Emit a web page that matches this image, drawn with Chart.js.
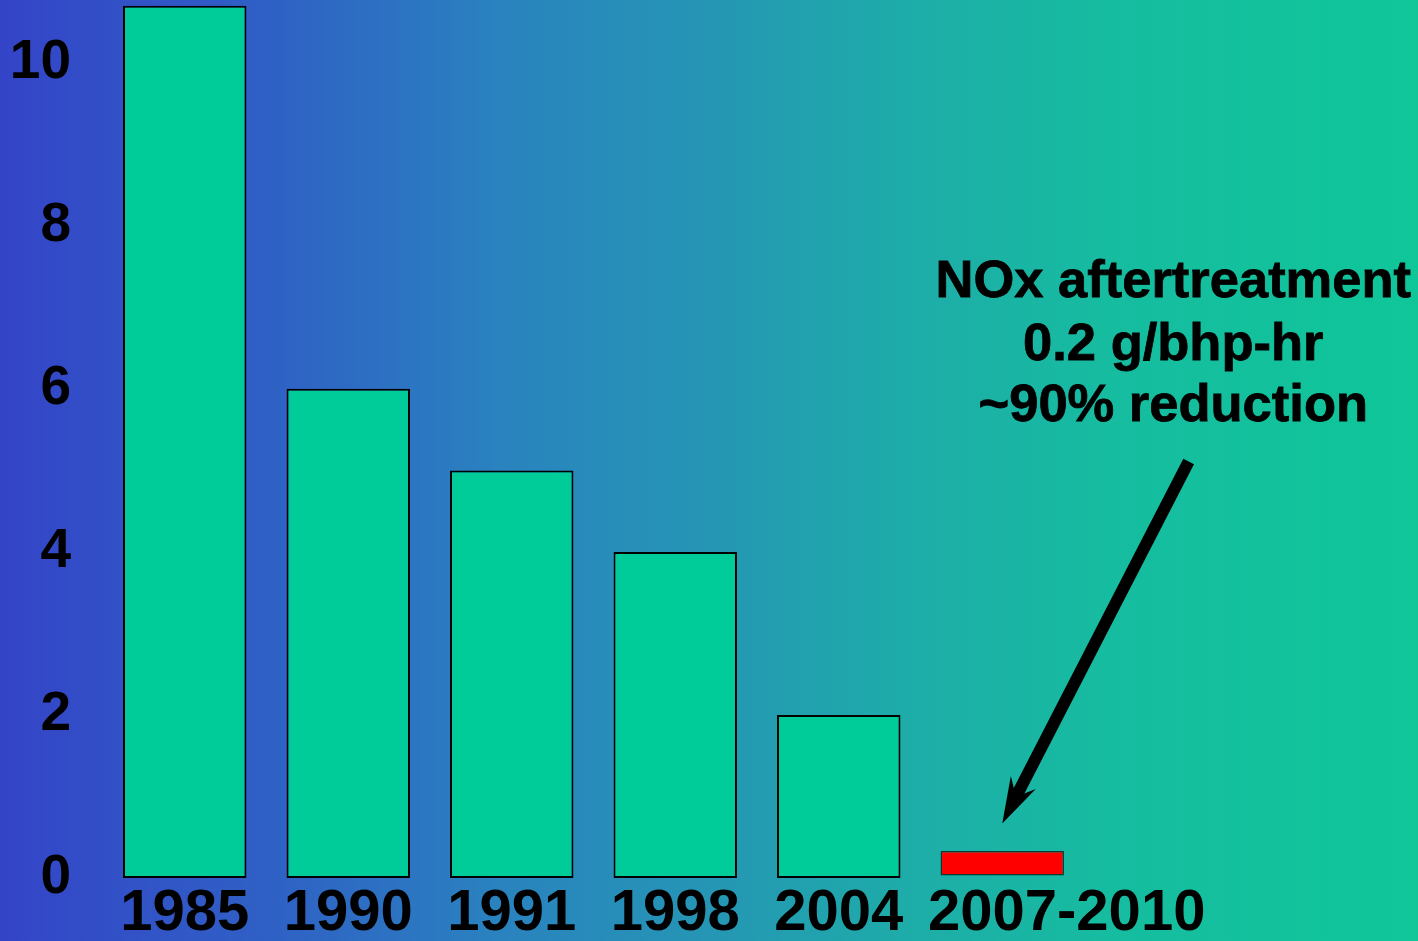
<!DOCTYPE html>
<html>
<head>
<meta charset="utf-8">
<script src="https://cdn.jsdelivr.net/npm/chart.js@4.4.1/dist/chart.umd.min.js"></script>
<style>
  html, body { margin: 0; padding: 0; background: #3344c8; }
  #wrap { width: 1418px; height: 941px; }
</style>
</head>
<body>
<div id="wrap"><canvas id="c"></canvas></div>
<script>
const years     = ['1985', '1990', '1991', '1998', '2004', '        2007-2010'];
const noxLevels = [10.7, 6, 5, 4, 2];
const noxNew    = [0.03, 0.33];           // barra flotante roja 2007-2010
const yTicks    = [0, 2, 4, 6, 8, 10];
const noteLines = ['NOx aftertreatment', '0.2 g/bhp-hr', '~90% reduction'];

const FONT = '"Liberation Sans", Arial, sans-serif';

const bgPlugin = {
    id: 'bg',
    beforeDraw(chart) {
        const { ctx, width, height } = chart;
        const g = ctx.createLinearGradient(0, 0, width, 0);
        g.addColorStop(0.00, '#3444c8');
        g.addColorStop(0.20, '#2f62c5');
        g.addColorStop(0.35, '#2a82bf');
        g.addColorStop(0.50, '#2596b4');
        g.addColorStop(0.64, '#1eaca9');
        g.addColorStop(0.78, '#16bca0');
        g.addColorStop(1.00, '#0fc699');
        ctx.save();
        ctx.fillStyle = g;
        ctx.fillRect(0, 0, width, height);
        ctx.restore();
    }
};

/* Texto de la nota y flecha hacia la barra roja */
const notePlugin = {
    id: 'note',
    afterDraw(chart) {
        const { ctx } = chart;
        const x = chart.scales.x, y = chart.scales.y;
        const cx = x.getPixelForValue(6.046);
        ctx.save();
        ctx.fillStyle = '#000';
        ctx.strokeStyle = '#000';
        ctx.lineWidth = 0.8;
        ctx.font = `bold 52.5px ${FONT}`;
        ctx.textAlign = 'center';
        ctx.textBaseline = 'alphabetic';
        [7.13, 6.36, 5.6].forEach((v, i) => {
            const ty = y.getPixelForValue(v);
            ctx.fillText(noteLines[i], cx, ty);
            ctx.strokeText(noteLines[i], cx, ty);
        });

        const x0 = x.getPixelForValue(6.14), y0 = y.getPixelForValue(5.11);
        const x1 = x.getPixelForValue(5.0),  y1 = y.getPixelForValue(0.67);
        const dx = x1 - x0, dy = y1 - y0, len = Math.hypot(dx, dy);
        const ux = dx / len, uy = dy / len, nx = -uy, ny = ux;
        const hl = 46, hw = 14, notch = 30;
        ctx.lineWidth = 12;
        ctx.beginPath();
        ctx.moveTo(x0, y0);
        ctx.lineTo(x1 - ux * notch, y1 - uy * notch);
        ctx.stroke();
        ctx.beginPath();
        ctx.moveTo(x1, y1);
        ctx.lineTo(x1 - ux * hl + nx * hw, y1 - uy * hl + ny * hw);
        ctx.lineTo(x1 - ux * notch, y1 - uy * notch);
        ctx.lineTo(x1 - ux * hl - nx * hw, y1 - uy * hl - ny * hw);
        ctx.closePath();
        ctx.fill();
        ctx.restore();
    }
};

const barData = [...noxLevels, noxNew];

new Chart(document.getElementById('c'), {
    type: 'bar',
    data: {
        labels: years,
        datasets: [{
            data: barData,
            backgroundColor: barData.map(v => Array.isArray(v) ? '#ff0000' : '#00cc99'),
            borderColor: barData.map(v => Array.isArray(v) ? '#0a3a30' : '#000000'),
            borderWidth: barData.map(v => Array.isArray(v) ? 1.5 : 2),
            borderSkipped: false,
            barPercentage: 0.755,
            categoryPercentage: 1,
        }]
    },
    options: {
        responsive: true,
        maintainAspectRatio: false,
        animation: false,
        layout: { padding: { left: 0, top: 0, bottom: 0, right: 334 } },
        plugins: {
            legend: { display: false },
            tooltip: { enabled: false },
        },
        scales: {
            x: {
                grid: { display: false, drawTicks: false },
                border: { display: false },
                ticks: { color: '#000', font: { family: FONT, size: 58, weight: 'bold' }, padding: 1, maxRotation: 0, autoSkip: false },
                afterFit(scale) {
                    scale.height = 63;
                    scale.paddingLeft = 0; scale.paddingRight = 0;
                },
            },
            y: {
                min: 0,
                max: 10.77,
                grid: { display: false, drawTicks: false },
                border: { display: false },
                afterBuildTicks(scale) { scale.ticks = yTicks.map(v => ({ value: v })); },
                ticks: { color: '#000', font: { family: FONT, size: 55, weight: 'bold' }, padding: 32 },
                afterFit(scale) {
                    scale.width = 103;
                    scale.paddingTop = 0; scale.paddingBottom = 0;
                },
            },
        },
    },
    plugins: [bgPlugin, notePlugin],
});
</script>
</body>
</html>
